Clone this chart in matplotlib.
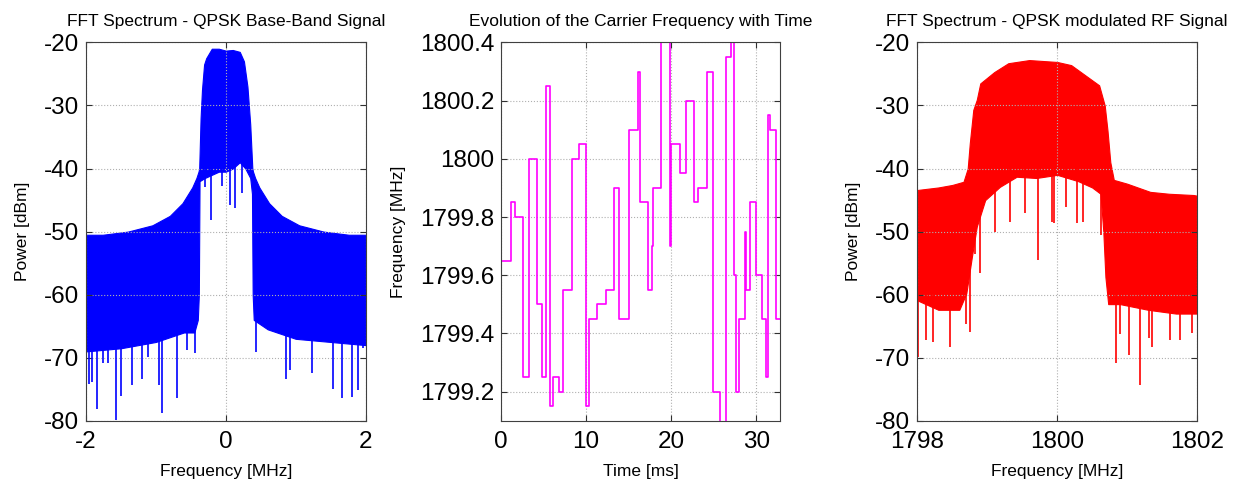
import numpy as np
import matplotlib
matplotlib.use("Agg")
import matplotlib.pyplot as plt
from matplotlib.ticker import FormatStrFormatter

plt.rcParams['font.family'] = ['Liberation Sans', 'DejaVu Sans']
plt.rcParams['axes.unicode_minus'] = False

# base-band spectrum, envelopes (MHz, dBm)
bb_up_f = [-2, -1.76, -1.4, -1.05, -0.8, -0.62, -0.48, -0.42, -0.39, -0.38, -0.36, -0.34,
           -0.31, -0.28, -0.2, -0.1, 0, 0.1, 0.2, 0.26, 0.31, 0.35, 0.38, 0.39,
           0.42, 0.48, 0.62, 0.8, 1.05, 1.4, 1.76, 2.0]
bb_up_p = [-50.5, -50.5, -50, -49, -47.5, -45.5, -43, -41.5, -40.5, -40, -32, -27.5,
           -23.5, -22.5, -21, -21, -21.3, -21.2, -21.5, -23, -27, -33, -40, -40.5,
           -41.5, -43, -45.5, -47.5, -49, -50, -50.5, -50.5]
bb_lo_f = [-2, -1.5, -1.0, -0.6, -0.45, -0.40, -0.385, -0.375, -0.3, -0.2, -0.1, 0.0,
           0.1, 0.2, 0.28, 0.35, 0.375, 0.385, 0.40, 0.6, 1.0, 1.5, 2.0]
bb_lo_p = [-69, -68.5, -67.5, -66, -66, -64, -60, -42, -41.5, -41, -40.5, -40.5,
           -40, -39, -40, -41.5, -44, -60, -64, -65.5, -67, -67.5, -68]
bb_spk_f = [-1.955, -1.918, -1.837, -1.752, -1.68, -1.570, -1.503, -1.346, -1.203, -1.108,
            -0.951, -0.917, -0.693, -0.559, -0.44, -0.30, -0.21, -0.054, 0.06, 0.13,
            0.227, 0.43, 0.855, 0.92, 1.228, 1.54, 1.665, 1.80, 1.895, 1.97]
bb_spk_p = [-74.1, -73.8, -78.2, -70.9, -70.9, -79.9, -76.1, -74.3, -73.3, -69.9,
            -74.3, -78.8, -76.4, -68.8, -69.3, -43.0, -48.2, -42.8, -45.8, -46.3,
            -43.9, -69.1, -73.3, -72, -72.5, -74.9, -76.4, -76.2, -75.1, -68.4]

# carrier frequency hopping (ms, MHz)
t_start = [0, 1.13, 1.68, 2.54, 3.25, 4.26, 4.85, 5.24, 5.79, 6.14,
           6.80, 7.31, 8.33, 9.11, 10.01, 10.36, 11.26, 12.36, 13.30, 13.84,
           14.98, 16.15, 16.31, 17.21, 17.72, 17.91, 18.77, 19.87, 19.98, 21.00,
           21.71, 22.64, 23.15, 24.21, 24.91, 25.77, 26.48, 27.06, 27.34, 27.65,
           27.96, 28.62, 28.82, 29.21, 29.92, 30.70, 31.17, 31.36, 31.56, 32.34]
t_end = 32.77
carrier = [1799.65, 1799.85, 1799.8, 1799.25, 1800.0, 1799.5, 1799.25, 1800.25, 1799.15, 1799.25,
           1799.2, 1799.55, 1800.0, 1800.05, 1799.15, 1799.45, 1799.5, 1799.55, 1799.9, 1799.45,
           1800.1, 1800.3, 1799.85, 1799.55, 1799.7, 1799.9, 1800.5, 1799.7, 1800.05, 1799.95,
           1800.2, 1799.85, 1799.9, 1800.3, 1799.2, 1799.0, 1800.35, 1800.45, 1799.6, 1799.2,
           1799.45, 1799.75, 1799.55, 1799.85, 1799.6, 1799.45, 1799.25, 1800.15, 1800.1, 1799.45]

# RF spectrum
rf_up_f = [1798, 1798.3, 1798.5, 1798.66, 1798.72, 1798.75, 1798.8, 1798.85, 1798.9, 1799.1,
           1799.3, 1799.6, 1800, 1800.2, 1800.4, 1800.6, 1800.68, 1800.72, 1800.76, 1800.81,
           1801, 1801.33, 1801.6, 1801.95, 1802]
rf_up_p = [-43.4, -43, -42.6, -42.1, -40, -36, -30.7, -29.1, -26.5, -24.7,
           -23.3, -22.8, -23.1, -23.6, -25.2, -26.8, -30, -34, -39, -41.8,
           -42.4, -43.7, -44, -44.2, -44.3]
rf_lo_f = [1798, 1798.3, 1798.6, 1798.7, 1798.78, 1798.85, 1798.97, 1799.18, 1799.42, 1799.7,
           1800, 1800.3, 1800.5, 1800.62, 1800.66, 1800.69, 1800.73, 1800.9, 1801.3, 1801.7, 1802]
rf_lo_p = [-60.9, -62.4, -62.4, -59.8, -54.0, -49.2, -45, -42.9, -41.3, -41.5,
           -41, -42, -43, -44, -50, -57.2, -61.5, -61.5, -62.4, -63, -63]
rf_spk_f = [1798.01, 1798.12, 1798.23, 1798.46, 1798.7, 1798.75, 1798.83, 1798.9, 1799.11, 1799.32,
            1799.54, 1799.72, 1799.93, 1799.95, 1800.12, 1800.28, 1800.37, 1800.62, 1800.84, 1800.9,
            1801.03, 1801.18, 1801.32, 1801.36, 1801.62, 1801.76, 1801.93]
rf_spk_p = [-69.9, -67.2, -67.5, -68.3, -64.6, -65.9, -53.5, -56.6, -50, -48.4,
            -47.1, -54.5, -48.4, -48.6, -46.1, -48.6, -48.4, -50.5, -70.9, -66.3,
            -69.6, -74.3, -66.8, -68.3, -67.2, -67.2, -66.1]


def style(ax):
    ax.grid(True, linestyle=':', color='#b0b0b0', linewidth=0.8)
    ax.tick_params(direction='in', top=True, right=True, labelsize=17.5, length=4,
                   color='#303030')
    ax.tick_params(axis='x', pad=7)
    ax.tick_params(axis='y', pad=5)
    for s in ax.spines.values():
        s.set_color('#404040')
        s.set_linewidth(0.8)


def spectrum(ax, uf, up, lf, lp, sf, sp, color):
    grid_f = np.union1d(uf, lf)
    top = np.interp(grid_f, uf, up)
    bot = np.interp(grid_f, lf, lp)
    ax.fill_between(grid_f, bot, top, color=color, linewidth=0.8, edgecolor=color)
    base = np.interp(sf, lf, lp)
    ax.vlines(sf, np.array(base) + 2, sp, color=color, linewidth=1.2)


fig = plt.figure(figsize=(12.33, 4.82), dpi=100)
ax1 = fig.add_axes([0.0697, 0.127, 0.2268, 0.785])
ax2 = fig.add_axes([0.4063, 0.127, 0.2263, 0.785])
ax3 = fig.add_axes([0.744, 0.127, 0.2268, 0.785])

title_kw = dict(fontsize=12.5, pad=12)
label_kw = dict(fontsize=12.5)

spectrum(ax1, bb_up_f, bb_up_p, bb_lo_f, bb_lo_p, bb_spk_f, bb_spk_p, 'blue')
ax1.set_xlim(-2, 2)
ax1.set_ylim(-80, -20)
ax1.set_xticks([-2, 0, 2])
ax1.set_title('FFT Spectrum - QPSK Base-Band Signal', **title_kw)
ax1.set_xlabel('Frequency [MHz]', labelpad=8, **label_kw)
ax1.set_ylabel('Power [dBm]', labelpad=10, **label_kw)
style(ax1)

ax2.step(t_start + [t_end], carrier + [carrier[-1]], where='post', color='magenta', linewidth=1.2)
ax2.set_xlim(0, t_end)
ax2.set_ylim(1799.1, 1800.4)
ax2.set_xticks([0, 10, 20, 30])
ax2.set_yticks([1799.2, 1799.4, 1799.6, 1799.8, 1800.0, 1800.2, 1800.4])
ax2.yaxis.set_major_formatter(FormatStrFormatter('%g'))
ax2.set_title('Evolution of the Carrier Frequency with Time', **title_kw)
ax2.set_xlabel('Time [ms]', labelpad=8, **label_kw)
ax2.set_ylabel('Frequency [MHz]', labelpad=10, **label_kw)
style(ax2)

spectrum(ax3, rf_up_f, rf_up_p, rf_lo_f, rf_lo_p, rf_spk_f, rf_spk_p, 'red')
ax3.set_xlim(1798, 1802)
ax3.set_ylim(-80, -20)
ax3.set_xticks([1798, 1800, 1802])
ax3.set_title('FFT Spectrum - QPSK modulated RF Signal', **title_kw)
ax3.set_xlabel('Frequency [MHz]', labelpad=8, **label_kw)
ax3.set_ylabel('Power [dBm]', labelpad=10, **label_kw)
style(ax3)

fig.savefig('out.png', dpi=100)
